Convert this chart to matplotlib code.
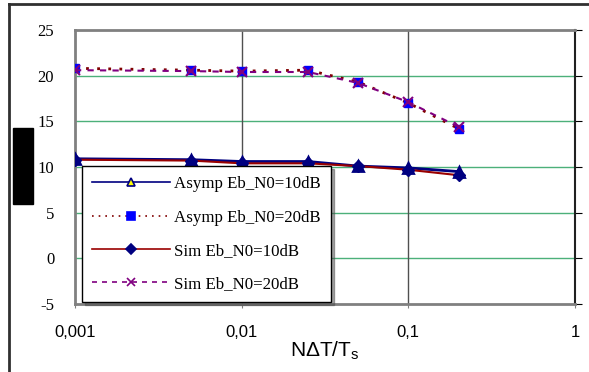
import matplotlib
matplotlib.use("Agg")
import matplotlib.pyplot as plt
from matplotlib.lines import Line2D
from matplotlib.patches import Rectangle

plt.rcParams["mathtext.fontset"] = "custom"
plt.rcParams["mathtext.rm"] = "Liberation Sans"

# data
x_vals = [0.001, 0.005, 0.01, 0.025, 0.05, 0.1, 0.2]
asymp_10 = [10.9, 10.8, 10.6, 10.6, 10.1, 9.9, 9.5]
asymp_20 = [20.8, 20.6, 20.5, 20.6, 19.3, 17.0, 14.2]
sim_10 = [10.8, 10.7, 10.4, 10.4, 10.1, 9.7, 9.1]
sim_20 = [20.6, 20.5, 20.4, 20.4, 19.2, 17.1, 14.4]

labels = ["Asymp Eb_N0=10dB", "Asymp Eb_N0=20dB", "Sim Eb_N0=10dB", "Sim Eb_N0=20dB"]
x_ticks = [0.001, 0.01, 0.1, 1]
x_tick_labels = ["0,001", "0,01", "0,1", "1"]
y_ticks = [-5, 0, 5, 10, 15, 20, 25]

fig = plt.figure(figsize=(5.89, 3.72), dpi=100)
ax = fig.add_axes([0.1273, 0.1828, 0.849, 0.7366])

ax.plot(x_vals, asymp_10, color="#000080", lw=2, marker="^", ms=7,
        mfc="#ffff00", mec="#000080", mew=2, label=labels[0], zorder=4)
ax.plot(x_vals, asymp_20, color="#800000", lw=2, ls=(0, (1, 3)), marker="s", ms=6,
        mfc="#0000ff", mec="#0000ff", label=labels[1], zorder=4)
ax.plot(x_vals, sim_10, color="#990000", lw=1.5, marker="D", ms=6,
        mfc="#000080", mec="#000080", label=labels[2], zorder=4)
ax.plot(x_vals, sim_20, color="#800080", lw=1.5, ls=(0, (3, 3)), marker="x", ms=7,
        mew=1.5, label=labels[3], zorder=5)

ax.set_xscale("log")
ax.set_xlim(0.001, 1)
ax.set_ylim(-5, 25)
ax.set_xticks(x_ticks)
ax.set_xticklabels(x_tick_labels, fontfamily="Liberation Sans", fontsize=12)
ax.minorticks_off()
ax.set_yticks(y_ticks)
ax.set_yticklabels([str(v) for v in y_ticks], fontfamily="Liberation Serif", fontsize=12)
ax.tick_params(axis="x", length=3, pad=12, color="#808080")
ax.tick_params(axis="y", left=False, right=True, direction="out", length=5,
               color="black", pad=10)

for v in [0, 5, 10, 15, 20]:
    ax.axhline(v, color="#4cb07a", lw=1, zorder=1)
for v in [0.01, 0.1]:
    ax.axvline(v, color="#505050", lw=1, zorder=1)

for side in ["left", "top", "bottom"]:
    ax.spines[side].set_color("#808080")
    ax.spines[side].set_linewidth(2)
ax.spines["right"].set_color("#202020")
ax.spines["right"].set_linewidth(1.5)

ax.set_xlabel(r"N$\Delta$T/T$_\mathregular{s}$", fontfamily="Liberation Sans",
              fontsize=15, labelpad=0)

leg = ax.legend(loc="lower left", bbox_to_anchor=(0.014, 0.006), fancybox=False,
                shadow=True, frameon=True, edgecolor="black", framealpha=1,
                prop={"family": "Liberation Serif", "size": 12.2},
                handlelength=4.6, handletextpad=0.25, labelspacing=1.02,
                borderpad=0.6, borderaxespad=0)
leg.get_frame().set_linewidth(1)
leg.set_zorder(6)
for h in leg.legend_handles:
    h.set_linewidth(1.2)
    h.set_markersize(5.5)
    h.set_markeredgewidth(1.2)

# redacted y label block and outer frame
fig.add_artist(Rectangle((0.0221, 0.4516), 0.034, 0.204, transform=fig.transFigure,
                         color="black"))
fig.add_artist(Line2D([0.0145, 1.0], [0.989, 0.989], transform=fig.transFigure,
                      color="#303030", lw=2))
fig.add_artist(Line2D([0.0145, 0.0145], [0.0, 0.989], transform=fig.transFigure,
                      color="#303030", lw=2))

fig.savefig("out.png", dpi=100)
